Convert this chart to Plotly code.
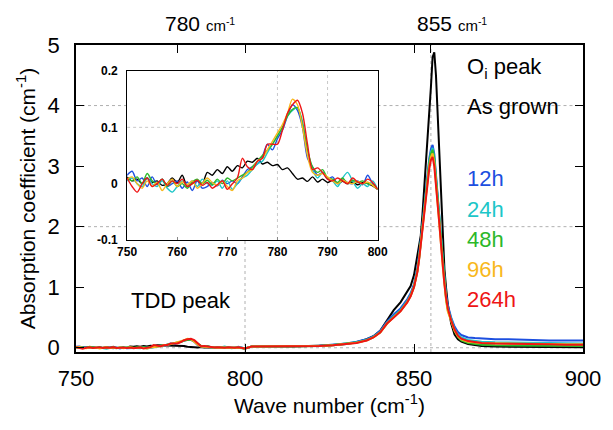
import plotly.graph_objects as go

# ---------------- data ----------------
# inset region (also the 750-800 part of the main spectra), step 1 cm-1
INSET_X = list(range(750, 801))

ASG_INSET = [0.012, 0.005, 0.008, 0.0, 0.01, 0.002, 0.005, -0.003, 0.0, 0.01,
             0.002, 0.015, -0.005, 0.0, 0.005, 0.0, 0.02, 0.015, 0.025, 0.018,
             0.03, 0.022, 0.032, 0.028, 0.04, 0.038, 0.045, 0.035, 0.038, 0.032,
             0.034, 0.025, 0.028, 0.018, 0.008, 0.01, 0.004, 0.012, 0.003, 0.008,
             0.002, 0.006, 0.0, 0.004, 0.0, 0.003, -0.002, 0.002, 0.0, -0.004, -0.01]
H12_INSET = [0.015, 0.022, 0.005, 0.01, -0.005, 0.012, -0.002, 0.008, -0.005, 0.0,
             0.005, -0.008, 0.003, -0.012, 0.005, -0.008, -0.005, 0.002, -0.004, 0.006,
             0.0, 0.005, 0.0, 0.012, 0.025, 0.03, 0.035, 0.048, 0.07, 0.06,
             0.08, 0.095, 0.12, 0.14, 0.13, 0.1, 0.045, 0.03, 0.015, 0.02,
             0.008, 0.012, 0.0, 0.008, 0.002, 0.0, 0.005, -0.002, 0.015, 0.0, -0.01]
H24_INSET = [0.005, 0.01, 0.0, -0.005, 0.01, 0.0, -0.005, 0.005, -0.008, -0.015,
             -0.005, 0.005, -0.003, 0.005, -0.005, 0.008, 0.0, -0.003, 0.005, -0.008,
             0.005, -0.01, 0.0, 0.01, 0.015, 0.025, 0.035, 0.04, 0.055, 0.07,
             0.085, 0.1, 0.12, 0.13, 0.135, 0.11, 0.06, 0.025, 0.01, 0.02,
             0.01, 0.005, -0.005, 0.01, 0.02, 0.005, -0.008, 0.0, -0.005, 0.005, -0.01]
H48_INSET = [0.01, 0.005, 0.012, 0.0, 0.018, 0.005, 0.0, 0.008, -0.005, 0.005,
             -0.005, 0.0, -0.008, 0.003, 0.008, 0.0, 0.006, -0.002, 0.008, 0.0,
             0.01, 0.005, 0.01, 0.015, 0.02, 0.03, 0.04, 0.05, 0.06, 0.07,
             0.085, 0.1, 0.12, 0.132, 0.135, 0.105, 0.06, 0.03, 0.02, 0.025,
             0.01, 0.008, 0.002, 0.01, 0.0, 0.006, 0.002, 0.005, 0.0, -0.002, -0.01]
H96_INSET = [0.008, 0.012, 0.0, -0.008, 0.005, -0.005, 0.002, -0.012, 0.0, 0.008,
             -0.005, 0.003, -0.002, 0.005, -0.008, 0.0, 0.01, 0.002, -0.003, 0.005,
             -0.005, -0.012, 0.005, 0.01, 0.02, 0.025, 0.04, 0.045, 0.06, 0.075,
             0.09, 0.105, 0.125, 0.15, 0.14, 0.1, 0.05, 0.02, 0.015, 0.018,
             0.012, 0.005, 0.0, 0.006, 0.002, 0.0, 0.004, 0.0, 0.003, -0.003, -0.01]
H264_INSET = [0.01, -0.005, -0.015, 0.0, 0.01, -0.005, 0.0, 0.008, -0.003, 0.005,
              0.0, 0.008, -0.005, 0.0, 0.006, -0.003, 0.002, -0.008, -0.002, 0.005,
              -0.01, 0.0, 0.01, 0.045, 0.03, 0.025, 0.04, 0.045, 0.07, 0.07,
              0.07, 0.095, 0.125, 0.14, 0.148, 0.125, 0.07, 0.025, 0.028, 0.02,
              0.008, 0.005, 0.01, 0.005, 0.0, 0.01, 0.003, 0.0, 0.008, 0.002, -0.01]

# main spectrum beyond 800 cm-1
TAIL_X = [802, 806, 810, 814, 818, 822, 826, 830, 833, 836, 838, 840, 842, 844, 846,
          848, 849, 850, 851, 851.5, 852, 852.5, 853, 853.5, 854, 854.5, 855, 855.5,
          856, 856.5, 857, 857.5, 858, 858.5, 859, 859.5, 860, 861, 862, 863, 864,
          866, 868, 870, 874, 878, 882, 886, 890, 895, 900]

ASG_TAIL = [0.02, 0.015, 0.02, 0.02, 0.025, 0.03, 0.04, 0.06, 0.09, 0.14, 0.19, 0.28,
            0.45, 0.62, 0.75, 0.92, 1.02, 1.2, 1.5, 1.68, 1.85, 2.2, 2.6, 2.95, 3.4,
            3.9, 4.3, 4.8, 4.88, 4.5, 3.85, 3.1, 2.4, 1.8, 1.3, 0.98, 0.72, 0.4, 0.22,
            0.14, 0.1, 0.06, 0.04, 0.03, 0.02, 0.02, 0.015, 0.01, 0.01, 0.01, 0.01]
H12_TAIL = [0.02, 0.02, 0.02, 0.025, 0.03, 0.035, 0.05, 0.07, 0.1, 0.14, 0.19, 0.28,
            0.43, 0.55, 0.65, 0.8, 0.9, 1.05, 1.32, 1.52, 1.78, 2.05, 2.35, 2.62, 2.9,
            3.12, 3.28, 3.35, 3.2, 2.88, 2.58, 2.2, 1.82, 1.45, 1.13, 0.88, 0.7, 0.5,
            0.35, 0.26, 0.21, 0.17, 0.16, 0.15, 0.14, 0.14, 0.13, 0.13, 0.12, 0.12, 0.12]
H24_TAIL = [0.02, 0.02, 0.02, 0.02, 0.025, 0.03, 0.045, 0.065, 0.09, 0.13, 0.18, 0.26,
            0.41, 0.52, 0.62, 0.77, 0.87, 1.02, 1.28, 1.48, 1.74, 2.0, 2.3, 2.57, 2.85,
            3.07, 3.23, 3.3, 3.15, 2.82, 2.52, 2.14, 1.77, 1.4, 1.08, 0.83, 0.65, 0.46,
            0.31, 0.22, 0.17, 0.13, 0.11, 0.1, 0.09, 0.09, 0.085, 0.08, 0.08, 0.075, 0.07]
H48_TAIL = [0.02, 0.02, 0.02, 0.02, 0.025, 0.03, 0.045, 0.062, 0.085, 0.125, 0.175, 0.255,
            0.4, 0.51, 0.61, 0.76, 0.86, 1.01, 1.27, 1.47, 1.72, 1.98, 2.28, 2.55, 2.82,
            3.04, 3.2, 3.27, 3.12, 2.79, 2.49, 2.11, 1.74, 1.37, 1.05, 0.8, 0.62, 0.43,
            0.28, 0.18, 0.12, 0.08, 0.06, 0.05, 0.04, 0.04, 0.035, 0.03, 0.03, 0.03, 0.03]
H96_TAIL = [0.02, 0.02, 0.02, 0.02, 0.025, 0.03, 0.042, 0.06, 0.082, 0.122, 0.172, 0.252,
            0.4, 0.505, 0.605, 0.755, 0.855, 1.005, 1.26, 1.46, 1.71, 1.96, 2.26, 2.52,
            2.78, 2.99, 3.15, 3.21, 3.06, 2.74, 2.46, 2.08, 1.7, 1.34, 1.03, 0.78, 0.6,
            0.43, 0.28, 0.19, 0.14, 0.1, 0.09, 0.08, 0.075, 0.07, 0.07, 0.065, 0.065, 0.06, 0.06]
H264_TAIL = [0.02, 0.02, 0.02, 0.02, 0.025, 0.03, 0.04, 0.06, 0.08, 0.12, 0.17, 0.25,
             0.4, 0.5, 0.6, 0.75, 0.85, 1.0, 1.25, 1.45, 1.7, 1.95, 2.25, 2.5, 2.75,
             2.95, 3.1, 3.15, 3.0, 2.72, 2.45, 2.05, 1.7, 1.35, 1.05, 0.82, 0.65, 0.45,
             0.3, 0.2, 0.15, 0.11, 0.09, 0.08, 0.07, 0.07, 0.06, 0.06, 0.06, 0.05, 0.05]

SERIES_NAMES = ["As grown", "12h", "24h", "48h", "96h", "264h"]
SERIES_COLORS = ["#000000", "#1d4fe0", "#1cc6c8", "#2cb82a", "#f8b81c", "#ee1515"]
INSET_VALUES = [ASG_INSET, H12_INSET, H24_INSET, H48_INSET, H96_INSET, H264_INSET]
TAIL_VALUES = [ASG_TAIL, H12_TAIL, H24_TAIL, H48_TAIL, H96_TAIL, H264_TAIL]

MAIN_XTICKS = [750, 800, 850, 900]
MAIN_YTICKS = [0, 1, 2, 3, 4, 5]
TOP_TICKS = [780, 800, 850, 855]
INSET_XTICKS = [750, 760, 770, 780, 790, 800]
INSET_YTICKS = [-0.1, 0, 0.1, 0.2]
INSET_YTICKTEXT = ["-0.1", "0", "0.1", "0.2"]

FONT = "Liberation Sans, Arial, Helvetica, sans-serif"

# ---------------- figure ----------------
fig = go.Figure()
main_x = INSET_X + TAIL_X
for name, col, iv, tv in zip(SERIES_NAMES, SERIES_COLORS, INSET_VALUES, TAIL_VALUES):
    fig.add_trace(go.Scatter(x=main_x, y=iv + tv, mode="lines", name=name,
                             line=dict(color=col, width=2), xaxis="x", yaxis="y",
                             showlegend=False))
for name, col, iv in zip(SERIES_NAMES, SERIES_COLORS, INSET_VALUES):
    fig.add_trace(go.Scatter(x=INSET_X, y=iv, mode="lines", name=name,
                             line=dict(color=col, width=1.4, shape="spline", smoothing=0.8),
                             xaxis="x3", yaxis="y3", showlegend=False))
# empty trace so the top tick axis is drawn
fig.add_trace(go.Scatter(x=[], y=[], xaxis="x2", yaxis="y", showlegend=False))

grid = dict(color="#b0b0b0", width=1, dash="dot")
shapes = []
# main grid (kept out of the inset box)
inset_l, inset_r, inset_b, inset_t = 765.1, 839.2, 1.78, 4.57
shapes.append(dict(type="line", xref="x", yref="y", x0=750, x1=900, y0=0, y1=0, line=grid, layer="below"))
for yv in (2, 4):
    shapes.append(dict(type="line", xref="x", yref="y", x0=750, x1=inset_l, y0=yv, y1=yv, line=grid, layer="below"))
    shapes.append(dict(type="line", xref="x", yref="y", x0=inset_r, x1=900, y0=yv, y1=yv, line=grid, layer="below"))
shapes.append(dict(type="line", xref="x", yref="y", x0=800, x1=800, y0=-0.07, y1=inset_b, line=grid, layer="below"))
shapes.append(dict(type="line", xref="x", yref="y", x0=855, x1=855, y0=-0.07, y1=5, line=grid, layer="below"))
# inset grid
igrid = dict(color="#c8c8c8", width=1, dash="dot")
for xv in (780, 790):
    shapes.append(dict(type="line", xref="x3", yref="y3", x0=xv, x1=xv, y0=-0.1, y1=0.2, line=igrid, layer="below"))
shapes.append(dict(type="line", xref="x3", yref="y3", x0=750, x1=800, y0=0.1, y1=0.1, line=igrid, layer="below"))

annotations = []
def ann(x, y, text, color="black", size=22, xanchor="left", xref="x", yref="y"):
    annotations.append(dict(x=x, y=y, xref=xref, yref=yref, text=text, showarrow=False,
                            xanchor=xanchor, yanchor="middle",
                            font=dict(family=FONT, size=size, color=color)))

ann(865.1, 4.62, "O<sub>i</sub> peak")
ann(865.1, 3.99, "As grown")
label_y = [2.79, 2.28, 1.78, 1.29, 0.79]
for nm, col, yv in zip(SERIES_NAMES[1:], SERIES_COLORS[1:], label_y):
    ann(865.1, yv, nm, color=col)
ann(765.7, 0.78, "TDD peak")
# top labels
annotations.append(dict(x=775.6, y=1.0, xref="x", yref="paper", yshift=0, text="780 <span style='font-size:15px'>cm<sup>-1</sup></span>",
                        showarrow=False, xanchor="left", yanchor="bottom",
                        font=dict(family=FONT, size=21, color="black")))
annotations.append(dict(x=850.3, y=1.0, xref="x", yref="paper", text="855 <span style='font-size:15px'>cm<sup>-1</sup></span>",
                        showarrow=False, xanchor="left", yanchor="bottom",
                        font=dict(family=FONT, size=21, color="black")))
for a in annotations[-2:]:
    a["yshift"] = 8

fig.update_layout(
    width=613, height=430,
    margin=dict(l=76, r=21, t=45, b=78),
    paper_bgcolor="white", plot_bgcolor="white",
    font=dict(family=FONT, size=21, color="black"),
    shapes=shapes, annotations=annotations,
    xaxis=dict(range=[750, 900], tickvals=MAIN_XTICKS, ticks="inside", ticklen=8,
               tickwidth=1, tickcolor="black", showline=True, linecolor="black",
               linewidth=1.5, mirror="ticks", showgrid=False, zeroline=False,
               tickfont=dict(size=22), ticklabelstandoff=6,
               title=dict(text="Wave number (cm<sup>-1</sup>)", font=dict(size=21), standoff=8)),
    xaxis2=dict(range=[750, 900], overlaying="x", side="top", anchor="y",
                tickvals=TOP_TICKS, ticks="inside", ticklen=8, tickcolor="black",
                showticklabels=False, showgrid=False, zeroline=False, showline=False),
    yaxis=dict(range=[-0.07, 5], tickvals=MAIN_YTICKS, ticks="inside", ticklen=8,
               tickcolor="black", showline=True, linecolor="black", linewidth=1.5,
               mirror="ticks", showgrid=False, zeroline=False, tickfont=dict(size=22),
               ticklabelstandoff=10,
               title=dict(text="Absorption coefficient (cm<sup>-1</sup>)", font=dict(size=21), standoff=6)),
    xaxis3=dict(domain=[0.1008, 0.595], anchor="y3", range=[750, 800], tickvals=INSET_XTICKS,
                ticks="inside", ticklen=3, tickcolor="#888", showline=True, linecolor="black",
                linewidth=1, mirror=True, showgrid=False, zeroline=False,
                tickfont=dict(size=12, family="Liberation Sans, Arial", weight="bold"),
                ticklabelstandoff=1),
    yaxis3=dict(domain=[0.3648, 0.9153], anchor="x3", range=[-0.1, 0.2], tickvals=INSET_YTICKS,
                ticktext=INSET_YTICKTEXT, ticks="", showline=True, linecolor="black",
                linewidth=1, mirror=True, showgrid=False, zeroline=False,
                tickfont=dict(size=12, family="Liberation Sans, Arial", weight="bold"),
                ticklabelstandoff=6),
)

fig.write_html("out.html")
